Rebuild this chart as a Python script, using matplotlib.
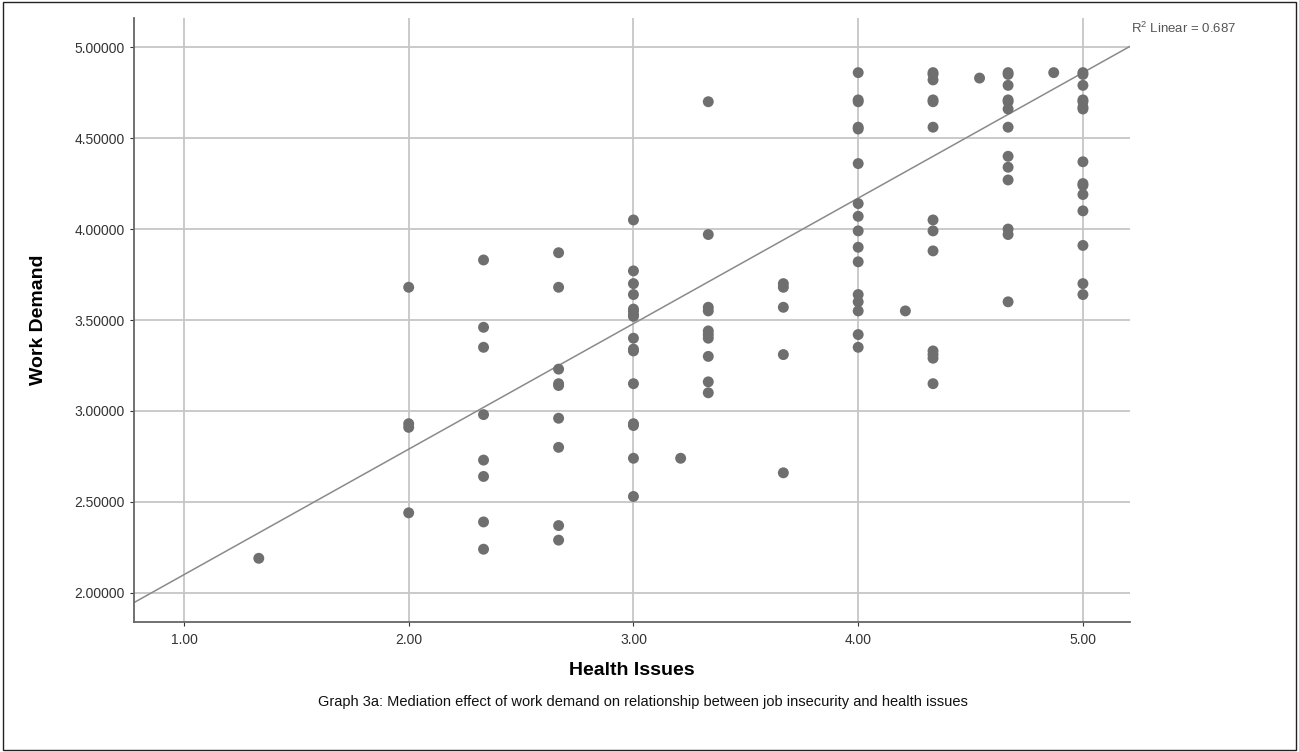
import matplotlib
matplotlib.use('Agg')
import matplotlib.pyplot as plt
from matplotlib.patches import Rectangle
import numpy as np

plt.rcParams['font.family'] = ['Liberation Sans', 'DejaVu Sans']

# points, grouped by Health Issues value
hi_133 = [2.19]
hi_200 = [3.68, 2.93, 2.91, 2.44]
hi_233 = [3.83, 3.46, 3.35, 2.98, 2.73, 2.64, 2.39, 2.24]
hi_267 = [3.87, 3.68, 3.23, 3.15, 3.14, 2.96, 2.80, 2.37, 2.29]
hi_300 = [4.05, 3.77, 3.70, 3.64, 3.56, 3.55, 3.53, 3.52, 3.40, 3.34, 3.33,
          3.15, 2.93, 2.92, 2.74, 2.53]
hi_321 = [2.74]
hi_333 = [4.70, 3.97, 3.57, 3.55, 3.44, 3.42, 3.40, 3.30, 3.16, 3.10]
hi_367 = [3.70, 3.68, 3.57, 3.31, 2.66]
hi_400 = [4.86, 4.71, 4.70, 4.56, 4.55, 4.36, 4.14, 4.07, 3.99, 3.90, 3.82,
          3.64, 3.60, 3.55, 3.42, 3.35]
hi_421 = [3.55]
hi_433 = [4.86, 4.85, 4.82, 4.71, 4.70, 4.56, 4.05, 3.99, 3.88, 3.33, 3.31,
          3.29, 3.15]
hi_454 = [4.83]
hi_467 = [4.86, 4.85, 4.79, 4.71, 4.70, 4.66, 4.56, 4.40, 4.34, 4.27, 4.00,
          3.97, 3.60]
hi_487 = [4.86]
hi_500 = [4.86, 4.85, 4.79, 4.71, 4.70, 4.67, 4.66, 4.37, 4.25, 4.24, 4.19,
          4.10, 3.91, 3.70, 3.64]

groups = {1.333: hi_133, 2.0: hi_200, 2.333: hi_233, 2.667: hi_267, 3.0: hi_300,
          3.21: hi_321, 3.333: hi_333, 3.667: hi_367, 4.0: hi_400, 4.21: hi_421,
          4.333: hi_433, 4.54: hi_454, 4.667: hi_467, 4.87: hi_487, 5.0: hi_500}

# fit line as shown
fit_intercept = 1.41
fit_slope = 0.69
r2 = 0.687

x_ticks = [1.0, 2.0, 3.0, 4.0, 5.0]
y_ticks = [2.0, 2.5, 3.0, 3.5, 4.0, 4.5, 5.0]

fig = plt.figure(figsize=(12.99, 7.52), dpi=100)
ax = fig.add_axes([0.1032, 0.1729, 0.7668, 0.8031])

xs = []
ys = []
for k, v in groups.items():
    xs += [k] * len(v)
    ys += v

ax.grid(True, color='#c6c6c6', linewidth=1.3, zorder=0)
ax.set_axisbelow(True)

xlim = (0.778, 5.21)
xx = np.array(xlim)
ax.plot(xx, fit_intercept + fit_slope * xx, color='#8a8a8a', linewidth=1.1, zorder=2)
ax.scatter(xs, ys, s=62, color='#6f6f6f', edgecolors='none', zorder=3)

ax.set_xlim(xlim)
ax.set_ylim(1.84, 5.16)
ax.set_xticks(x_ticks)
ax.set_xticklabels(['%.2f' % t for t in x_ticks])
ax.set_yticks(y_ticks)
ax.set_yticklabels(['%.5f' % t for t in y_ticks])
ax.tick_params(axis='both', labelsize=10, colors='#333333', length=3, width=0.8)
ax.tick_params(axis='x', pad=5)

for s in ['top', 'right']:
    ax.spines[s].set_visible(False)
for s in ['left', 'bottom']:
    ax.spines[s].set_color('#666666')
    ax.spines[s].set_linewidth(1.3)

ax.set_xlabel('Health Issues', fontsize=14, fontweight='bold', labelpad=11)
ax.set_ylabel('Work Demand', fontsize=14, fontweight='bold', labelpad=20)

ax.text(5.215, 5.105, f'$\\mathregular{{R^2}}$ Linear = {r2}', fontsize=9.5,
        color='#555555', ha='left', va='center', clip_on=False)

fig.text(0.495, 0.066, 'Graph 3a: Mediation effect of work demand on relationship between job insecurity and health issues',
         fontsize=10.5, ha='center', va='center', color='#111111')

fig.patches.append(Rectangle((0.002, 0.002), 0.996, 0.996, transform=fig.transFigure,
                             fill=False, edgecolor='#222222', linewidth=1.0))

fig.savefig('out.png', dpi=100)
